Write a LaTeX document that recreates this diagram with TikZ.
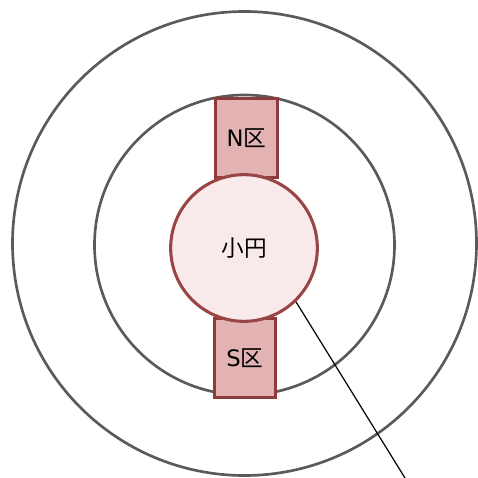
\documentclass[tikz,border=0pt]{standalone}
\usepackage{fontspec}
\setmainfont{DejaVu Sans}
\newfontfamily\cjk{Noto Sans CJK SC}
\definecolor{ringgray}{HTML}{5A5A5A}
\definecolor{zonefill}{HTML}{E3B3B3}
\definecolor{zoneline}{HTML}{8E3B3B}
\definecolor{corefill}{HTML}{F8EAEA}
\definecolor{coreline}{HTML}{9A4545}
\tikzset{
  ring/.style={circle, draw=ringgray, line width=2pt, inner sep=0pt},
  zone/.style={rectangle, draw=zoneline, fill=zonefill, line width=2.3pt,
    minimum width=46pt, minimum height=59pt, inner sep=0pt, font=\fontsize{17}{20}\selectfont},
  core/.style={circle, draw=coreline, fill=corefill, line width=2.3pt,
    minimum size=110pt, inner sep=0pt, font=\fontsize{17}{20}\selectfont}
}
\begin{document}
\begin{tikzpicture}[x=0.75pt, y=-0.75pt]
        \useasboundingbox (0,0) rectangle (478,478);

        % Rings
        \node[ring, minimum size=348pt] (outer) at (244.5,243.5) {};
        \node[ring, minimum size=225pt] (inner) at (244.5,245) {};

        % Zones
        \node[zone] (north) at (246.5,138) {N{\cjk 区}};
        \node[zone] (south) at (245,358) {S{\cjk 区}};

        % Core
        \node[core] (core) at (244,248) {{\cjk 小円}};

        % Pointer
        \coordinate (tail) at (405,478);
        \draw[line width=0.9pt] (core.-46) -- (tail);
    \end{tikzpicture}
\end{document}
